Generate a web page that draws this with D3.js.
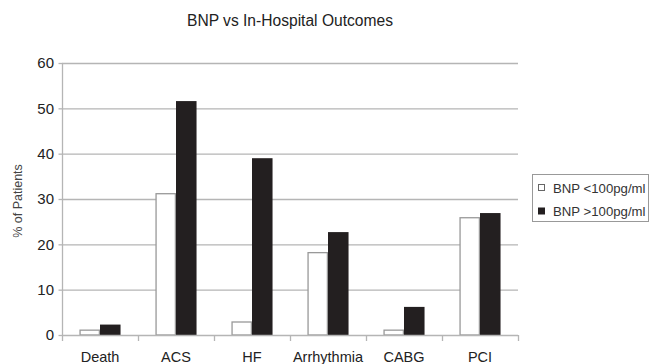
<!DOCTYPE html>
<html><head><meta charset="utf-8">
<script src="https://cdn.jsdelivr.net/npm/d3@7"></script>
<style>body{margin:0;background:#fff}svg{display:block;font-family:"Liberation Sans",Arial,sans-serif}</style>
</head><body><svg id="c" width="660" height="364"></svg>
<script>
const categories = ["Death","ACS","HF","Arrhythmia","CABG","PCI"];
const seriesNames = ["BNP <100pg/ml","BNP >100pg/ml"];
const lowBNP = [1.2, 31.3, 3.0, 18.3, 1.2, 26.0];
const highBNP = [2.3, 51.6, 39.0, 22.7, 6.2, 26.9];
const yTicks = [0,10,20,30,40,50,60];

(function(){
const svg = d3.select("#c");
const FF = "Liberation Sans, Arial, sans-serif";
const pLeft = 62, pRight = 518, pTop = 63, pBottom = 335;
const x = d3.scaleBand().domain(categories).range([pLeft, pRight]);
const x1 = d3.scaleBand().domain([0,1]).range([0, x.bandwidth()]).paddingInner(0).paddingOuter(0.85);
const y = d3.scaleLinear().domain([0,60]).range([pBottom, pTop]);

// gridlines
svg.append("g").selectAll("line").data(yTicks.filter(d=>d>0)).join("line")
  .attr("x1", pLeft).attr("x2", pRight).attr("y1", d=>y(d)+0.5).attr("y2", d=>y(d)+0.5)
  .attr("stroke", "#b5b5b5").attr("stroke-width", 1.3);

// y axis
const ya = svg.append("g").attr("transform", `translate(${pLeft+0.5},0)`)
  .call(d3.axisLeft(y).tickValues(yTicks).tickSize(4).tickPadding(4.5));
ya.select(".domain").attr("stroke", "#b5b5b5").attr("stroke-width", 1.3).attr("d", `M0,${y(60)+0.5}V${pBottom+6}`);
ya.selectAll(".tick line").attr("stroke", "#b5b5b5").attr("stroke-width", 1.3);
ya.selectAll(".tick text").attr("font-size", 15).attr("fill", "#222").attr("font-family", FF);

// bars
const data = categories.map((c,i)=>({c, v:[lowBNP[i], highBNP[i]]}));
const g = svg.append("g");
data.forEach(d=>{
  d.v.forEach((v,k)=>{
    g.append("rect")
      .attr("x", x(d.c) + x1(k) + (k===0?0.6:0))
      .attr("y", y(v) + (k===0?0.6:0))
      .attr("width", x1.bandwidth() - (k===0?1.2:0))
      .attr("height", pBottom - y(v) - (k===0?0.6:0))
      .attr("fill", k===0 ? "#fff" : "#231f20")
      .attr("stroke", k===0 ? "#999" : "none")
      .attr("stroke-width", 1.3);
  });
});

// x axis
const xa = svg.append("g").attr("transform", `translate(0,${pBottom+0.5})`)
  .call(d3.axisBottom(x).tickSize(0).tickPadding(16));
xa.select(".domain").attr("stroke", "#b5b5b5").attr("stroke-width", 1.3).attr("d", `M${pLeft},0H${pRight}`);
xa.selectAll(".tick text").attr("font-size", 14.5).attr("fill", "#222").attr("font-family", FF);
svg.append("g").selectAll("line").data(categories).join("line")
  .attr("x1", d=>x(d)+x.bandwidth()+0.5).attr("x2", d=>x(d)+x.bandwidth()+0.5)
  .attr("y1", pBottom).attr("y2", pBottom+6).attr("stroke", "#b5b5b5").attr("stroke-width", 1.3);

// title
svg.append("text").attr("x", (pLeft+pRight)/2).attr("y", 25.5).attr("text-anchor","middle")
  .attr("font-size", 15.6).attr("fill", "#222").attr("font-family", FF).text("BNP vs In-Hospital Outcomes");

// y title
svg.append("text").attr("transform", `translate(22,${(pTop+pBottom)/2 + 2}) rotate(-90)`)
  .attr("text-anchor","middle").attr("font-size", 12.5).attr("fill", "#444").attr("font-family", FF).text("% of Patients");

// legend
const lg = svg.append("g");
lg.append("rect").attr("x", 532.5).attr("y", 174.5).attr("width", 116).attr("height", 47)
  .attr("fill", "#fff").attr("stroke", "#999").attr("stroke-width", 1);
seriesNames.forEach((s,k)=>{
  const cy = 188 + k*23.5;
  lg.append("rect").attr("x", 538.5).attr("y", cy-3.5).attr("width", 6).attr("height", 6)
    .attr("fill", k===0?"#fff":"#231f20").attr("stroke", k===0?"#666":"#231f20").attr("stroke-width", 1);
  lg.append("text").attr("x", 553).attr("y", cy+4.5).attr("font-size", 13.2).attr("fill", "#333")
    .attr("font-family", FF).text(s);
});
})();
</script></body></html>
